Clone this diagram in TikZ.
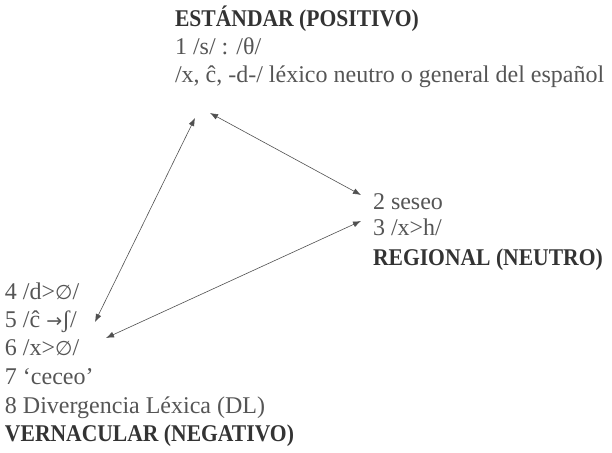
\documentclass[tikz,border=0pt]{standalone}
\usepackage{fontspec}
\setmainfont{Liberation Serif}
\newfontfamily\symfont{DejaVu Sans}
\usetikzlibrary{arrows.meta}
\definecolor{txtgray}{HTML}{555555}
\definecolor{headgray}{HTML}{333333}
\definecolor{arrgray}{HTML}{505050}
\newcommand{\nullset}{{\symfont\fontsize{20}{24}\selectfont ∅}}
\newcommand{\rarr}{{\symfont\fontsize{19}{24}\selectfont →}}
\begin{document}
\begin{tikzpicture}[x=1pt,y=1pt,
  lbl/.style={anchor=base west,inner sep=0pt,outer sep=0pt,text=txtgray,font=\fontsize{24}{28}\selectfont},
  head/.style={anchor=base west,inner sep=0pt,outer sep=0pt,text=headgray,font=\fontsize{24}{28}\selectfont\bfseries},
  conn/.style={draw=arrgray,line width=0.6pt,{Latex[length=8pt,width=6pt]}-{Latex[length=8pt,width=6pt]}}]
\useasboundingbox (0,0) rectangle (612,452);
% top block
\node[head] (std) at (175,{452-27}) {\scalebox{0.9}[1]{ESTÁNDAR (POSITIVO)}};
\node[lbl] (t1) at (175,{452-55}) {1 /s/ : /θ/};
\node[lbl] (t2) at (175,{452-83}) {/x, ĉ, -d-/ léxico neutro o general del español};
% right block
\node[lbl] (r2) at (373,{452-210}) {2 seseo};
\node[lbl] (r3) at (373,{452-236}) {3 /x>h/};
\node[head] (reg) at (373,{452-266}) {\scalebox{0.9}[1]{REGIONAL (NEUTRO)}};
% left block
\node[lbl] (l4) at (5,{452-300}) {4 /d>\nullset/};
\node[lbl] (l5) at (5,{452-328}) {5 /ĉ \rarr ʃ/};
\node[lbl] (l6) at (5,{452-356}) {6 /x>\nullset/};
\node[lbl] (l7) at (5,{452-385}) {7 ‘ceceo’};
\node[lbl] (l8) at (5,{452-413}) {8 Divergencia Léxica (DL)};
\node[head] (ver) at (5,{452-441}) {\scalebox{0.9}[1]{VERNACULAR (NEGATIVO)}};
% arrow end points
\coordinate (sa) at (195,{452-118});
\coordinate (sb) at (210,{452-113});
\coordinate (ra) at (361,{452-195});
\coordinate (rb) at (361,{452-221});
\coordinate (va) at (95,{452-322});
\coordinate (vb) at (106,{452-338});
\draw[conn] (sa) -- (va);
\draw[conn] (sb) -- (ra);
\draw[conn] (rb) -- (vb);
\end{tikzpicture}
\end{document}
